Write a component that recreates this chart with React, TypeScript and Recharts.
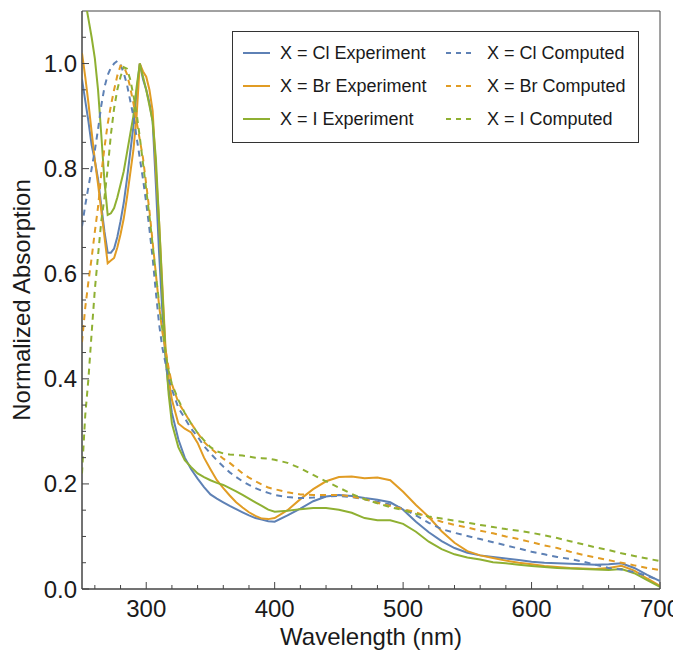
import { LineChart, Line, XAxis, YAxis, ReferenceArea, Label } from 'recharts';

// wavelength grid (nm) shared by all six traces
const WAVELENGTH = [
  250, 252.5, 255, 257.5, 260, 262.5, 265, 267.5, 270, 272.5, 275, 277.5, 280, 282.5, 285,
  287.5, 290, 292.5, 295, 297.5, 300, 302.5, 305, 307.5, 310, 312.5, 315, 317.5, 320,
  325, 330, 335, 340, 345, 350, 355, 360, 365, 370, 375, 380, 385, 390, 395, 400,
  410, 420, 430, 440, 450, 460, 470, 480, 490, 500, 510, 520, 530, 540, 550, 560, 570, 580, 590, 600,
  610, 620, 630, 640, 650, 660, 670, 680, 690, 700,
];

const CL_EXPERIMENT = [
  0.97, 0.93, 0.89, 0.845, 0.815, 0.78, 0.73, 0.68, 0.64, 0.64, 0.648, 0.67, 0.70, 0.735, 0.78,
  0.83, 0.88, 0.945, 1.0, 0.97, 0.95, 0.925, 0.89, 0.77, 0.64, 0.53, 0.44, 0.38, 0.335,
  0.285, 0.25, 0.228, 0.21, 0.194, 0.18, 0.172, 0.165, 0.158, 0.152, 0.146, 0.14, 0.135, 0.132, 0.129, 0.128,
  0.14, 0.153, 0.167, 0.176, 0.179, 0.177, 0.173, 0.17, 0.165, 0.151, 0.128, 0.108, 0.091, 0.078, 0.069, 0.064, 0.061, 0.058, 0.055, 0.052,
  0.05, 0.049, 0.048, 0.047, 0.046, 0.047, 0.049, 0.04, 0.027, 0.015,
];

const BR_EXPERIMENT = [
  1.02, 0.975, 0.925, 0.87, 0.816, 0.77, 0.72, 0.67, 0.62, 0.625, 0.63, 0.65, 0.675, 0.705, 0.745,
  0.79, 0.835, 0.9, 1.0, 0.985, 0.975, 0.95, 0.91, 0.8, 0.7, 0.58, 0.46, 0.40, 0.36,
  0.315, 0.305, 0.298, 0.278, 0.25, 0.228, 0.207, 0.192, 0.178, 0.165, 0.155, 0.146, 0.139, 0.134, 0.133, 0.135,
  0.15, 0.171, 0.19, 0.205, 0.213, 0.214, 0.211, 0.212, 0.207, 0.185, 0.16, 0.137, 0.11, 0.088, 0.072, 0.064, 0.059, 0.054, 0.05, 0.047,
  0.044, 0.042, 0.04, 0.039, 0.038, 0.04, 0.044, 0.035, 0.02, 0.006,
];

const I_EXPERIMENT = [
  1.16, 1.12, 1.085, 1.05, 1.01, 0.95, 0.865, 0.775, 0.712, 0.715, 0.725, 0.745, 0.77, 0.795, 0.83,
  0.865, 0.9, 0.955, 1.0, 0.975, 0.95, 0.92, 0.89, 0.82, 0.7, 0.57, 0.45, 0.37, 0.315,
  0.27, 0.245, 0.232, 0.22, 0.213, 0.207, 0.202, 0.198, 0.192, 0.186, 0.179, 0.172, 0.165, 0.158, 0.151, 0.147,
  0.149, 0.152, 0.154, 0.154, 0.151, 0.145, 0.135, 0.131, 0.131, 0.124, 0.109, 0.09, 0.076, 0.066, 0.06, 0.056, 0.051, 0.049, 0.046, 0.044,
  0.042, 0.04, 0.039, 0.038, 0.037, 0.036, 0.038, 0.03, 0.017, 0.004,
];

const CL_COMPUTED = [
  0.69, 0.73, 0.765, 0.80, 0.835, 0.875, 0.92, 0.955, 0.978, 0.992, 1.0, 1.005, 0.998, 0.982, 0.96,
  0.93, 0.9, 0.86, 0.82, 0.78, 0.735, 0.685, 0.63, 0.565, 0.505, 0.46, 0.43, 0.4, 0.38,
  0.345, 0.325, 0.305, 0.29, 0.272, 0.258, 0.245, 0.233, 0.222, 0.213, 0.205, 0.198, 0.192, 0.187, 0.183, 0.179,
  0.175, 0.173, 0.174, 0.176, 0.177, 0.175, 0.171, 0.166, 0.161, 0.153, 0.14, 0.126, 0.114, 0.107, 0.101, 0.095, 0.089, 0.083, 0.077, 0.071,
  0.066, 0.061, 0.057, 0.052, 0.046, 0.04, 0.037, 0.032, 0.025, 0.016,
];

const BR_COMPUTED = [
  0.47, 0.535, 0.585, 0.63, 0.68, 0.727, 0.79, 0.84, 0.885, 0.92, 0.95, 0.977, 0.996, 0.995, 0.98,
  0.955, 0.925, 0.89, 0.855, 0.82, 0.77, 0.72, 0.66, 0.6, 0.54, 0.49, 0.455, 0.42, 0.39,
  0.355, 0.335, 0.315, 0.297, 0.28, 0.268, 0.258, 0.248, 0.24, 0.23, 0.22, 0.212, 0.205, 0.199, 0.193, 0.19,
  0.184, 0.18, 0.179, 0.179, 0.179, 0.176, 0.171, 0.164, 0.158, 0.152, 0.146, 0.136, 0.128, 0.122, 0.117, 0.111, 0.106, 0.1, 0.095, 0.089,
  0.083, 0.078, 0.071, 0.065, 0.06, 0.055, 0.05, 0.045, 0.04, 0.036,
];

const I_COMPUTED = [
  0.22, 0.33, 0.40, 0.487, 0.57, 0.635, 0.70, 0.745, 0.80, 0.865, 0.915, 0.95, 0.975, 0.993, 0.99,
  0.97, 0.94, 0.905, 0.86, 0.81, 0.76, 0.71, 0.655, 0.6, 0.545, 0.495, 0.45, 0.415, 0.39,
  0.36, 0.335, 0.315, 0.297, 0.283, 0.27, 0.262, 0.258, 0.256, 0.255, 0.254, 0.252, 0.25, 0.249, 0.248, 0.246,
  0.24, 0.23, 0.217, 0.205, 0.193, 0.181, 0.171, 0.163, 0.156, 0.15, 0.143, 0.138, 0.134, 0.13, 0.126, 0.122, 0.118, 0.114, 0.111, 0.107,
  0.102, 0.097, 0.091, 0.085, 0.079, 0.074, 0.068, 0.063, 0.058, 0.053,
];

const X_TICKS = [260, 280, 300, 320, 340, 360, 380, 400, 420, 440, 460, 480, 500, 520, 540, 560, 580, 600, 620, 640, 660, 680, 700];
const Y_TICKS = [0, 0.05, 0.1, 0.15, 0.2, 0.25, 0.3, 0.35, 0.4, 0.45, 0.5, 0.55, 0.6, 0.65, 0.7, 0.75, 0.8, 0.85, 0.9, 0.95, 1.0, 1.05];

const BLUE = '#5E81B5';
const ORANGE = '#E19C24';
const GREEN = '#8FB032';
const INK = '#1a1a1a';
const FRAME = '#444';
const FONT = '"Liberation Sans", Arial, Helvetica, sans-serif';
const DASH = '6 5';

const SERIES = [
  { key: 'clExp', name: 'X = Cl Experiment', color: BLUE, dashed: false, values: CL_EXPERIMENT },
  { key: 'brExp', name: 'X = Br Experiment', color: ORANGE, dashed: false, values: BR_EXPERIMENT },
  { key: 'iExp', name: 'X = I Experiment', color: GREEN, dashed: false, values: I_EXPERIMENT },
  { key: 'clComp', name: 'X = Cl Computed', color: BLUE, dashed: true, values: CL_COMPUTED },
  { key: 'brComp', name: 'X = Br Computed', color: ORANGE, dashed: true, values: BR_COMPUTED },
  { key: 'iComp', name: 'X = I Computed', color: GREEN, dashed: true, values: I_COMPUTED },
];

const data = WAVELENGTH.map((wl, i) => {
  const row: Record<string, number> = { wl };
  SERIES.forEach((s) => { row[s.key] = s.values[i]; });
  return row;
});

// ticks point inward, Mathematica style
function XTick({ x, y, payload }: any) {
  const major = payload.value % 100 === 0;
  return (
    <g>
      <line x1={x} x2={x} y1={y} y2={y - (major ? 7 : 4)} stroke={FRAME} strokeWidth={1} />
      {major && (
        <text x={x} y={y + 19} textAnchor="middle" dominantBaseline="central"
          fontFamily={FONT} fontSize={24} fill={INK}>
          {payload.value}
        </text>
      )}
    </g>
  );
}

function YTick({ x, y, payload }: any) {
  const v = payload.value;
  const major = Math.abs(v * 5 - Math.round(v * 5)) < 1e-6;
  return (
    <g>
      <line x1={x} x2={x + (major ? 7 : 4)} y1={y} y2={y} stroke={FRAME} strokeWidth={1} />
      {major && (
        <text x={x - 5} y={y} textAnchor="end" dominantBaseline="central"
          fontFamily={FONT} fontSize={24} fill={INK}>
          {v.toFixed(1)}
        </text>
      )}
    </g>
  );
}

function LegendBox() {
  const rowY = [22, 55, 88];
  const left = SERIES.filter((s) => !s.dashed);
  const right = SERIES.filter((s) => s.dashed);
  const txt = { fontFamily: FONT, fontSize: 18, fill: INK, dominantBaseline: 'central' as const };
  return (
    <svg width={408} height={113} style={{ position: 'absolute', left: 224, top: 23 }}>
      <rect x={0.5} y={0.5} width={406} height={111} fill="#fff" stroke="#333" />
      {left.map((s, i) => (
        <g key={s.key}>
          <line x1={11} x2={38} y1={rowY[i]} y2={rowY[i]} stroke={s.color} strokeWidth={2} />
          <text x={48} y={rowY[i]} {...txt}>{s.name}</text>
        </g>
      ))}
      {right.map((s, i) => (
        <g key={s.key}>
          <line x1={214} x2={242} y1={rowY[i]} y2={rowY[i]} stroke={s.color} strokeWidth={2} strokeDasharray="5 5" />
          <text x={255} y={rowY[i]} {...txt}>{s.name}</text>
        </g>
      ))}
    </svg>
  );
}

export default function App() {
  return (
    <div style={{ position: 'relative', width: 673, height: 644 }}>
      <LineChart width={673} height={644} data={data} margin={{ top: 3, right: 21, bottom: 23, left: 0 }}>
        <XAxis dataKey="wl" type="number" domain={[250, 700]} ticks={X_TICKS} interval={0}
          tick={<XTick />} tickLine={false} tickSize={0} tickMargin={0} height={40}
          axisLine={{ stroke: FRAME }} allowDataOverflow>
          <Label content={(p: any) => {
            const vb = p.viewBox;
            return (
              <text x={vb.x + vb.width / 2} y={vb.y + 56} textAnchor="middle"
                fontFamily={FONT} fontSize={24} fill={INK}>Wavelength (nm)</text>
            );
          }} />
        </XAxis>
        <YAxis type="number" domain={[0, 1.1]} ticks={Y_TICKS} interval={0}
          tick={<YTick />} tickLine={false} tickSize={0} tickMargin={0} width={74}
          axisLine={{ stroke: FRAME }} allowDataOverflow>
          <Label content={(p: any) => {
            const vb = p.viewBox;
            const cx = 22;
            const cy = vb.y + vb.height / 2;
            return (
              <text x={cx} y={cy} transform={`rotate(-90 ${cx} ${cy})`} textAnchor="middle"
                fontFamily={FONT} fontSize={24} fill={INK}>Normalized Absorption</text>
            );
          }} />
        </YAxis>
        <ReferenceArea x1={250} x2={700} y1={0} y2={1.1} fill="none" stroke={FRAME} strokeWidth={1} />
        {SERIES.map((s) => (
          <Line key={s.key} dataKey={s.key} name={s.name} type="linear" stroke={s.color}
            strokeWidth={2} strokeDasharray={s.dashed ? DASH : undefined}
            dot={false} activeDot={false} isAnimationActive={false} />
        ))}
      </LineChart>
      <LegendBox />
    </div>
  );
}
